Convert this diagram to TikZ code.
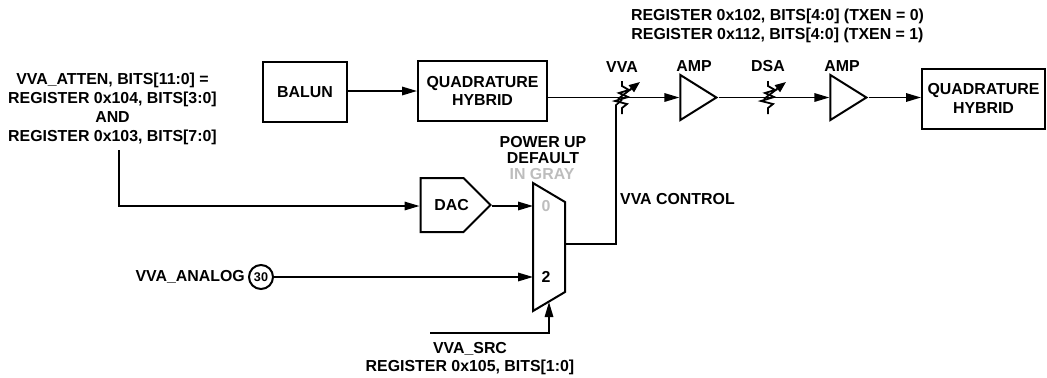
\documentclass[tikz,border=0pt]{standalone}
\usepackage{fontspec}
\setmainfont{Liberation Sans}
\usepackage{tikz}
\usetikzlibrary{arrows.meta,shapes.geometric,shapes.symbols,calc}

\definecolor{defgray}{gray}{0.74}

% variable attenuator symbol, drawn over a signal line
\newcommand{\vatt}[1]{
    \draw[wire, line width=1.8bp, line join=miter] ($(#1)+(0,-16)$) -- ++(0,5) -- ++(7,4) -- ++(-10,3) -- ++(9,4) -- ++(-13,4) -- ++(12,3) -- ++(-5,4) -- ++(0,6);
    \draw[wire, line width=1.8bp, -{Triangle[length=11bp,width=8.5bp]}] ($(#1)+(-4,2)$) -- ($(#1)+(18,-15)$);
}

\begin{document}
\begin{tikzpicture}[x=1bp, y=-1bp, >={Triangle[length=15bp,width=8.5bp]},
    lbl/.style={font=\fontsize{15.9bp}{18.8bp}\selectfont\bfseries, align=center, inner sep=0pt},
    box/.style={lbl, draw, line width=2bp, minimum height=60bp},
    amp/.style={draw, line width=2bp, isosceles triangle, isosceles triangle stretches, minimum width=45bp, minimum height=36bp, inner sep=0pt, anchor=apex},
    sig/.style={line width=1.6bp},
    wire/.style={line width=1.6bp}]
    \useasboundingbox (0,0) rectangle (1047,377);

    \node[box, minimum width=84bp] (BALUN) at (305,92) {BALUN};
    \node[box, minimum width=129bp] (QHa) at (482.5,91) {QUADRATURE\\HYBRID};
    \node[box, minimum width=123bp] (QHb) at (983.5,98.5) {QUADRATURE\\HYBRID};

    \coordinate (VVA) at (622,97);
    \coordinate (DSA) at (768,97);

    \node[amp] (AMPa) at (719,97.5) {};
    \node[amp] (AMPb) at (869,97.5) {};

    % signal chain
    \draw[->, sig] (BALUN.east |- 0,91) -- (QHa.west |- 0,91);
    \draw[->, sig] (QHa.east |- AMPa.apex) -- (AMPa.west);
    \draw[->, sig] (AMPa.apex) -- (AMPb.west);
    \draw[->, sig] (AMPb.apex) -- (QHb.west |- AMPb.apex);
    \vatt{VVA}
    \vatt{DSA}

    \node[lbl] (lVVA) at (622,67) {VVA};
    \node[lbl] (lAMPa) at (694,66) {AMP};
    \node[lbl] (lDSA) at (768,66) {DSA};
    \node[lbl] (lAMPb) at (842,66) {AMP};
    \node[lbl] (lREG) at (777.5,26) {REGISTER 0x102, BITS[4:0] (TXEN = 0)\\REGISTER 0x112, BITS[4:0] (TXEN = 1)};

    % mux and dac
    \node[draw, line width=2bp, signal, signal to=east, signal pointer angle=90, minimum width=70bp, minimum height=54bp, inner sep=0pt] (DAC) at (442,205) {};
    \node[lbl] (lDAC) at (451.7,205) {DAC};
    \draw[line width=2bp] (533,183) -- (565,202) -- (565,292) -- (533,311) -- cycle;
    \coordinate (MUXa) at (533,206);
    \coordinate (MUXb) at (533,277);
    \coordinate (MUXout) at (565,244);
    \coordinate (MUXsel) at (549,302);
    \node[lbl, text=defgray] (mZero) at (546,206) {0};
    \node[lbl] (mTwo) at (546,277) {2};
    \node[lbl, font=\fontsize{15.9bp}{16bp}\selectfont\bfseries] (lPWR) at (543,150) {POWER UP\\DEFAULT};
    \node[lbl, text=defgray] (lGRAY) at (542,174) {IN GRAY};

    \node[lbl] (lATT) at (112.5,109) {VVA\_ATTEN, BITS[11:0] =\\REGISTER 0x104, BITS[3:0]\\AND\\REGISTER 0x103, BITS[7:0]};
    \coordinate (ATTs) at (119,150);
    \draw[->, sig] (ATTs) |- (DAC.west |- 0,206);
    \draw[->, sig] (DAC.east |- 0,206) -- (MUXa);

    \node[lbl, anchor=east] (lANA) at (245,277) {VVA\_ANALOG};
    \node[draw, circle, line width=2bp, minimum size=24bp, inner sep=0pt, font=\fontsize{12.6bp}{14bp}\selectfont\bfseries] (PIN) at (261,277) {30};
    \draw[->, sig] (PIN) -- (MUXb);

    \coordinate (SELs) at (430,333);
    \draw[->, sig] (SELs) -| (MUXsel);
    \node[lbl] (lSEL) at (470,358.5) {VVA\_SRC\\REGISTER 0x105, BITS[1:0]};

    \draw[wire] (MUXout) -- (616,244) -- (616,105) -- (622,100);
    \node[lbl, anchor=west] (lCTL) at (620,199) {VVA CONTROL};
\end{tikzpicture}
\end{document}
